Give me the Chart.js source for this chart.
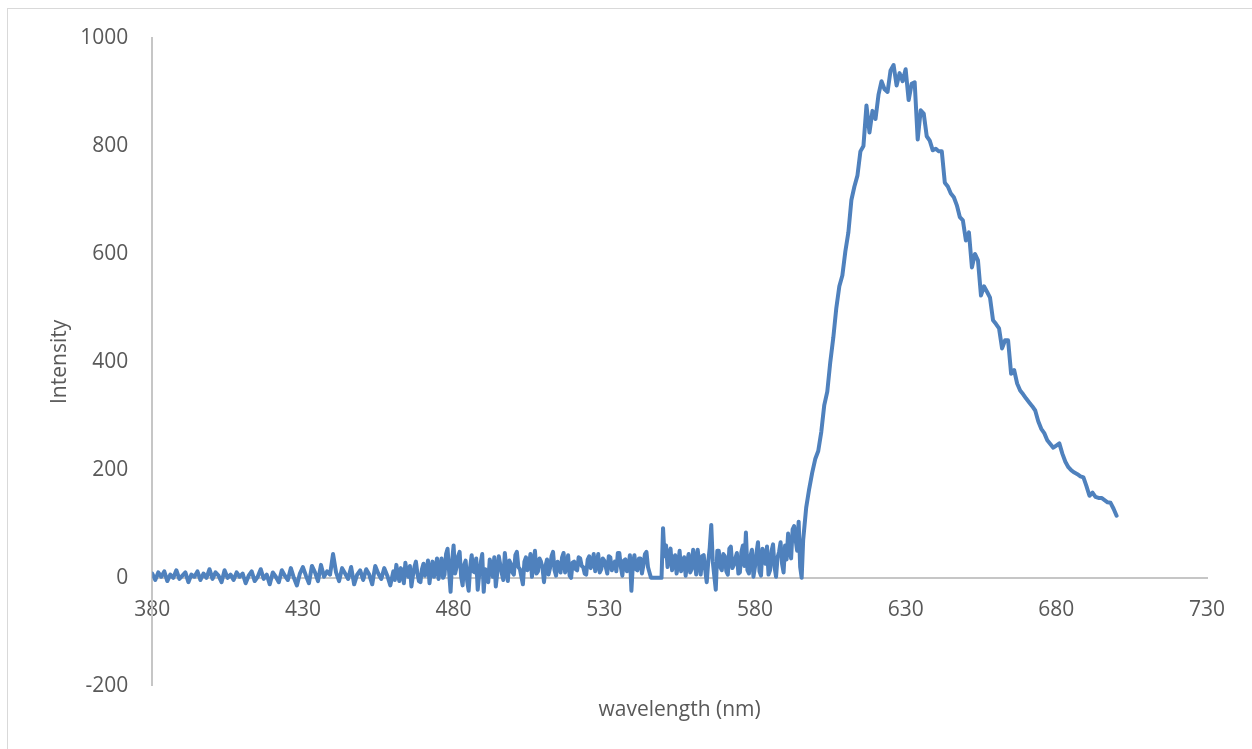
<!DOCTYPE html>
<html>
<head>
<meta charset="utf-8">
<title>Intensity vs wavelength</title>
<script src="https://cdn.jsdelivr.net/npm/chart.js@4.4.1/dist/chart.umd.min.js"></script>
<style>
  html, body { margin: 0; padding: 0; background: #fff; overflow: hidden; }
  #frame { position: absolute; left: 7px; top: 8px; width: 1300px; height: 800px; border: 1px solid #d9d9d9; }
  #wrap { position: absolute; left: 0; top: 0; width: 1252px; height: 749px; }
</style>
</head>
<body>
<div id="frame"></div>
<div id="wrap"><canvas id="spectrumChart" width="1252" height="749"></canvas></div>
<script>
// wavelength readings (nm) - finer steps through the noisy 460-596 stretch
var wavelengths = [
  380, 381, 382, 383, 384, 385, 386, 387, 388, 389,
  390, 391, 392, 393, 394, 395, 396, 397, 398, 399,
  400, 401, 402, 403, 404, 405, 406, 407, 408, 409,
  410, 411, 412, 413, 414, 415, 416, 417, 418, 419,
  420, 421, 422, 423, 424, 425, 426, 427, 428, 429,
  430, 431, 432, 433, 434, 435, 436, 437, 438, 439,
  440, 441, 442, 443, 444, 445, 446, 447, 448, 449,
  450, 451, 452, 453, 454, 455, 456, 457, 458, 459,
  460, 460.5, 461, 461.5, 462, 462.5, 463, 463.5, 464, 464.5,
  465, 465.5, 466, 466.5, 467, 467.5, 468, 468.5, 469, 469.5,
  470, 470.5, 471, 471.5, 472, 472.5, 473, 473.5, 474, 474.5,
  475, 475.5, 476, 476.5, 477, 477.5, 478, 478.5, 479, 479.5,
  480, 480.5, 481, 481.5, 482, 482.5, 483, 483.5, 484, 484.5,
  485, 485.5, 486, 486.5, 487, 487.5, 488, 488.5, 489, 489.5,
  490, 490.5, 491, 491.5, 492, 492.5, 493, 493.5, 494, 494.5,
  495, 495.5, 496, 496.5, 497, 497.5, 498, 498.5, 499, 499.5,
  500, 500.5, 501, 501.5, 502, 502.5, 503, 503.5, 504, 504.5,
  505, 505.5, 506, 506.5, 507, 507.5, 508, 508.5, 509, 509.5,
  510, 510.5, 511, 511.5, 512, 512.5, 513, 513.5, 514, 514.5,
  515, 515.5, 516, 516.5, 517, 517.5, 518, 518.5, 519, 519.5,
  520, 520.5, 521, 521.5, 522, 522.5, 523, 523.5, 524, 524.5,
  525, 525.5, 526, 526.5, 527, 527.5, 528, 528.5, 529, 529.5,
  530, 530.5, 531, 531.5, 532, 532.5, 533, 533.5, 534, 534.5,
  535, 535.5, 536, 536.5, 537, 537.5, 538, 538.5, 539, 539.5,
  540, 540.5, 541, 541.5, 542, 542.5, 543, 543.5, 544, 544.5,
  545, 545.5, 546, 546.5, 547, 547.5, 548, 548.5, 549, 549.5,
  550, 550.5, 551, 551.5, 552, 552.5, 553, 553.5, 554, 554.5,
  555, 555.5, 556, 556.5, 557, 557.5, 558, 558.5, 559, 559.5,
  560, 560.5, 561, 561.5, 562, 562.5, 563, 563.5, 564, 564.5,
  565, 565.5, 566, 566.5, 567, 567.5, 568, 568.5, 569, 569.5,
  570, 570.5, 571, 571.5, 572, 572.5, 573, 573.5, 574, 574.5,
  575, 575.5, 576, 576.5, 577, 577.5, 578, 578.5, 579, 579.5,
  580, 580.5, 581, 581.5, 582, 582.5, 583, 583.5, 584, 584.5,
  585, 585.5, 586, 586.5, 587, 587.5, 588, 588.5, 589, 589.5,
  590, 590.5, 591, 591.5, 592, 592.5, 593, 593.5, 594, 594.5,
  595, 595.5, 596, 597, 598, 599,
  600, 601, 602, 603, 604, 605, 606, 607, 608, 609,
  610, 611, 612, 613, 614, 615, 616, 617, 618, 619,
  620, 621, 622, 623, 624, 625, 626, 627, 628, 629,
  630, 631, 632, 633, 634, 635, 636, 637, 638, 639,
  640, 641, 642, 643, 644, 645, 646, 647, 648, 649,
  650, 651, 652, 653, 654, 655, 656, 657, 658, 659,
  660, 661, 662, 663, 664, 665, 666, 667, 668, 669,
  670, 671, 672, 673, 674, 675, 676, 677, 678, 679,
  680, 681, 682, 683, 684, 685, 686, 687, 688, 689,
  690, 691, 692, 693, 694, 695, 696, 697, 698, 699,
  700
];

// measured intensity at each wavelength
var intensity = [
  8, -4, 10, 2, 12, -6, 6, 0, 14, -2,
  4, 10, -8, 6, 2, 12, -4, 8, 0, 16,
  -2, 10, 4, -8, 14, 0, 6, -4, 10, 2,
  8, -10, 4, 12, -6, 2, 16, -2, 6, -12,
  10, 2, -8, 14, 4, -4, 18, 0, -14, 8,
  20, 4, -10, 22, 10, -6, 24, 2, 12, 6,
  44, 10, -6, 18, 8, -2, 20, -12, 6, 14,
  -4, 16, 6, -12, 22, 8, -2, 18, 4, -14,
  12, -4, 24, 6, -6, 18, 10, -10, 28, 8,
  2, 22, -16, 4, 20, 30, 8, -6, -8, 16,
  26, 4, 12, 32, -10, 14, 30, 2, 16, 36,
  -2, 18, 36, 0, 6, 44, 54, 12, -26, 30,
  60, 8, 20, 40, 48, 2, -14, 24, 32, -6,
  -24, 20, 42, 12, 10, 36, -22, 6, 28, 44,
  -26, 16, 12, -8, 34, 20, 2, 38, -16, 10,
  40, 24, 8, -4, 46, 18, -6, 32, 26, 10,
  6, 42, 48, 20, 16, 2, -12, 30, 38, 14,
  20, 44, 2, 26, 50, 8, 12, 36, 30, 18,
  -8, 22, 34, 6, 18, 40, 48, 14, 4, 30,
  24, 10, 38, 46, 10, 20, 42, 4, 0, 28,
  30, 16, 14, 38, 36, 22, 20, 8, 6, 34,
  40, 18, 26, 44, 12, 24, 44, 10, 16, 36,
  32, 20, 8, 40, 38, 14, 22, 30, 12, 46,
  46, 20, 4, 32, 34, 12, 18, 42, -24, 26,
  42, 16, 14, 36, 36, 8, 24, 44, 48, 20,
  10, 0, 0, 0, 0, 0, 0, 0, 0, 92,
  40, 60, 20, 46, 54, 14, 30, 42, 8, 24,
  50, 12, 24, 38, 4, 30, 44, 10, 16, 52,
  36, 6, 52, 28, 6, 40, 42, 14, -8, 30,
  56, 98, 30, 4, -22, 50, 50, 20, 14, 44,
  40, 12, 6, 54, 58, 18, 24, 36, 46, 8,
  10, 48, 60, 22, 84, 14, 8, 40, 52, 2,
  20, 46, 66, 12, 4, 54, 42, 26, 58, 6,
  14, 50, 62, 20, 2, 38, 48, 66, 26, 10,
  60, 34, 82, 50, 36, 90, 96, 70, 50, 104,
  20, 0, 70, 130, 165, 195,
  220, 235, 270, 320, 345, 400, 445, 500, 540, 560,
  605, 640, 700, 725, 745, 790, 800, 875, 825, 865,
  850, 895, 920, 905, 900, 940, 950, 912, 935, 920,
  942, 885, 915, 918, 812, 866, 860, 818, 810, 792,
  795, 790, 790, 732, 725, 712, 705, 690, 668, 662,
  625, 640, 575, 600, 588, 523, 540, 530, 519, 477,
  470, 462, 425, 440, 440, 378, 385, 360, 347, 340,
  332, 325, 318, 310, 290, 276, 268, 255, 248, 241,
  245, 249, 230, 215, 205, 199, 195, 192, 188, 186,
  170, 152, 158, 150, 148, 148, 144, 140, 139, 128,
  115
];

// axis ranges / tick steps
var xRange = [380, 730];
var xStep = 50;
var yRange = [-200, 1000];
var yStep = 200;

var textColor = '#595959';
var axisColor = '#c6c6c6';
var fontFamily = '"Open Sans", "Liberation Sans", sans-serif';
var labelPad = 24;

//pair the readings up for the line
var points = wavelengths.map(function(w, i) {
  return { x: w, y: intensity[i] };
});

//plain numbers, no thousands separator
var plainTick = function(value) {
  return String(value);
};

var ctx = document.getElementById('spectrumChart');

var spectrumChart = new Chart(ctx, {
  type: 'line',
  data: {
    datasets: [{
      label: 'Intensity',
      data: points,
      borderColor: '#4f81bd',
      borderWidth: 4,
      borderJoinStyle: 'round',
      borderCapStyle: 'round',
      pointRadius: 0,
      tension: 0,
      fill: false
    }]
  },
  options: {
    responsive: false,
    animation: false,
    layout: {
      padding: { left: 43, right: 45, top: 38, bottom: 22 }
    },
    plugins: {
      legend: { display: false },
      tooltip: { enabled: false }
    },
    scales: {
      //x axis crosses at intensity 0
      x: {
        type: 'linear',
        position: { y: 0 },
        min: xRange[0],
        max: xRange[1],
        grid: { display: false, drawTicks: false },
        border: { display: true, color: axisColor, width: 2 },
        ticks: {
          stepSize: xStep,
          padding: 20,
          color: textColor,
          font: { family: fontFamily, size: 21 },
          callback: plainTick
        }
      },
      //dummy bottom axis only used to carry the x title
      xTitle: {
        type: 'linear',
        axis: 'x',
        position: 'bottom',
        min: xRange[0],
        max: xRange[1],
        grid: { display: false, drawTicks: false },
        border: { display: false },
        ticks: { display: false },
        title: {
          display: true,
          text: 'wavelength (nm)',
          color: textColor,
          font: { family: fontFamily, size: 21 },
          padding: { top: 12, bottom: 4 }
        }
      },
      y: {
        type: 'linear',
        position: 'left',
        min: yRange[0],
        max: yRange[1],
        grid: { display: false, drawTicks: false },
        border: { display: true, color: axisColor, width: 2 },
        ticks: {
          stepSize: yStep,
          padding: labelPad,
          color: textColor,
          font: { family: fontFamily, size: 21 },
          callback: plainTick
        },
        title: {
          display: true,
          text: 'Intensity',
          color: textColor,
          font: { family: fontFamily, size: 21 },
          padding: { top: 4, bottom: 8 }
        },
        //chart.js reserves the tick padding twice, take one back so the title sits near the labels
        afterFit: function(scale) {
          scale.width = scale.width - labelPad;
        }
      }
    }
  }
});
</script>
</body>
</html>
